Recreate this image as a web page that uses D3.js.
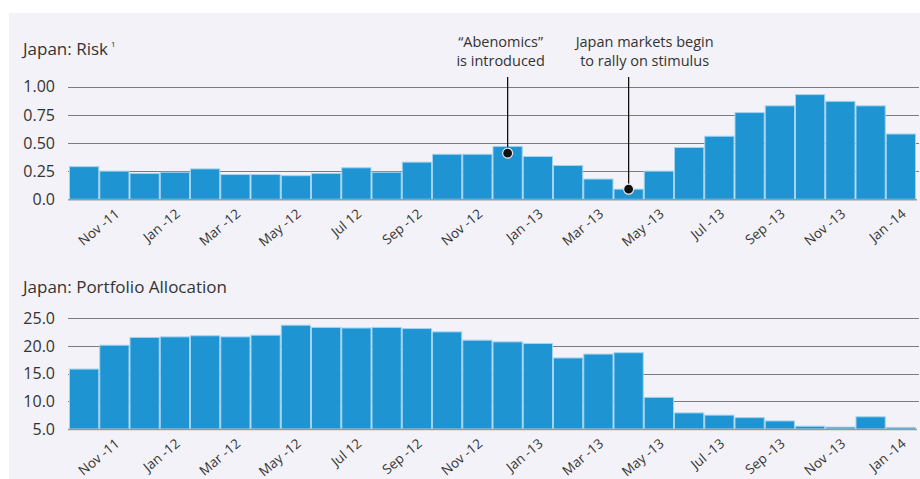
<!DOCTYPE html>
<html lang="en">
	<head>
		<meta charset="utf-8">
		<title>Japan: Risk and Portfolio Allocation</title>
		<script src="https://cdn.jsdelivr.net/npm/d3@7"></script>
		<style>
			body { margin: 0; background: #fff; }
			svg { display: block; font-family: "Open Sans", sans-serif; }
		</style>
	</head>
	<body>
		<div id="chart"></div>
		<script type="text/javascript">

		// months shown as bars, Oct-11 .. Jan-14
		var months = ["Oct-11","Nov-11","Dec-11","Jan-12","Feb-12","Mar-12","Apr-12","May-12","Jun-12","Jul-12",
			"Aug-12","Sep-12","Oct-12","Nov-12","Dec-12","Jan-13","Feb-13","Mar-13","Apr-13","May-13",
			"Jun-13","Jul-13","Aug-13","Sep-13","Oct-13","Nov-13","Dec-13","Jan-14"];

		// tick labels, every second month (as written on the original)
		var tickMonths = ["Nov-11","Jan-12","Mar-12","May-12","Jul-12","Sep-12","Nov-12","Jan-13","Mar-13","May-13","Jul-13","Sep-13","Nov-13","Jan-14"];
		var tickLabels = ["Nov -11","Jan -12","Mar -12","May -12","Jul 12","Sep -12","Nov -12","Jan -13","Mar -13","May -13","Jul -13","Sep -13","Nov -13","Jan -14"];

		var riskValues = [0.29,0.25,0.23,0.24,0.27,0.22,0.22,0.21,0.23,0.28,
			0.24,0.33,0.40,0.40,0.47,0.38,0.30,0.18,0.09,0.25,
			0.46,0.56,0.77,0.83,0.93,0.87,0.83,0.58];

		var allocValues = [15.8,20.1,21.5,21.6,21.8,21.6,21.9,23.7,23.3,23.2,
			23.3,23.1,22.5,21.0,20.7,20.4,17.8,18.5,18.75,10.7,
			7.9,7.5,7.05,6.45,5.5,5.35,7.2,5.3];

		var riskTicks = [0, 0.25, 0.5, 0.75, 1];
		var riskTickLabels = ["0.0","0.25","0.50","0.75","1.00"];
		var allocTicks = [5, 10, 15, 20, 25];
		var allocTickLabels = ["5.0","10.0","15.0","20.0","25.0"];

		// annotations on the risk chart
		var noteMonths = ["Dec-12", "Apr-13"];
		var noteDots = [0.41, 0.09];
		var noteLines = [["\u201cAbenomics\u201d", "is introduced"], ["Japan markets begin", "to rally on stimulus"]];

		var w = 920, h = 479;
		var barColor = "#1f94d2", barEdge = "#a3d4ef", gridColor = "#7c7c7c", textColor = "#333333";
		var noteDx = [-7, 16]; // text offset from the pointer line

		var svg = d3.select("#chart").append("svg")
			.attr("width", w)
			.attr("height", h);

		// light panel behind everything
		svg.append("rect")
			.attr("x", 9).attr("y", 13)
			.attr("width", w - 9).attr("height", h - 13)
			.attr("fill", "#f3f2f8");

		var x = d3.scaleBand()
			.domain(months)
			.range([69, 916])
			.padding(0);

		function drawPanel(opts) {
			var g = svg.append("g");
			var y = opts.y;

			g.append("text")
				.attr("x", 23).attr("y", opts.titleY)
				.attr("font-size", 17)
				.attr("fill", textColor)
				.text(opts.title)
				.call(function(t) {
					if (opts.sup) {
						t.append("tspan").attr("font-size", 8).attr("dx", 3).attr("dy", -8).text(opts.sup);
					}
				});

			// gridlines (behind the bars)
			g.selectAll("line.grid")
				.data(opts.ticks.slice(1))
				.enter().append("line")
				.attr("class", "grid")
				.attr("x1", 68).attr("x2", 919)
				.attr("y1", function(d) { return Math.round(y(d)) + 0.5; })
				.attr("y2", function(d) { return Math.round(y(d)) + 0.5; })
				.attr("stroke", gridColor)
				.attr("stroke-width", 1);

			g.selectAll("text.ytick")
				.data(opts.ticks)
				.enter().append("text")
				.attr("class", "ytick")
				.attr("x", 55)
				.attr("y", function(d) { return y(d); })
				.attr("dy", "0.36em")
				.attr("text-anchor", "end")
				.attr("font-size", 16)
				.attr("fill", textColor)
				.text(function(d, i) { return opts.tickLabels[i]; });

			g.selectAll("rect.bar")
				.data(opts.values)
				.enter().append("rect")
				.attr("class", "bar")
				.attr("x", function(d, i) { return x(months[i]) + 0.5; })
				.attr("width", x.bandwidth() - 1)
				.attr("y", function(d) { return y(d); })
				.attr("height", function(d) { return y(opts.ticks[0]) - y(d); })
				.attr("fill", barColor)
				.attr("stroke", barEdge)
				.attr("stroke-width", 1);

			// baseline
			g.append("line")
				.attr("x1", 68).attr("x2", 917)
				.attr("y1", y(opts.ticks[0]) + 0.5).attr("y2", y(opts.ticks[0]) + 0.5)
				.attr("stroke", "#9a9a9a")
				.attr("stroke-width", 1.5);

			// rotated month labels
			g.selectAll("text.xtick")
				.data(tickMonths)
				.enter().append("text")
				.attr("class", "xtick")
				.attr("text-anchor", "end")
				.attr("font-size", 13.5)
				.attr("fill", textColor)
				.attr("transform", function(d) {
					return "translate(" + (x(d) + x.bandwidth() / 2 + 6) + "," + (y(opts.ticks[0]) + 16) + ") rotate(-40)";
				})
				.text(function(d, i) { return tickLabels[i]; });

			return g;
		}

		var yRisk = d3.scaleLinear().domain([0, 1]).range([199.3, 86.7]);
		var yAlloc = d3.scaleLinear().domain([5, 25]).range([429, 318]);

		var riskG = drawPanel({title: "Japan: Risk", sup: "1", titleY: 55, y: yRisk,
			ticks: riskTicks, tickLabels: riskTickLabels, values: riskValues});

		drawPanel({title: "Japan: Portfolio Allocation", titleY: 293, y: yAlloc,
			ticks: allocTicks, tickLabels: allocTickLabels, values: allocValues});

		// annotations
		noteMonths.forEach(function(m, k) {
			var cx = x(m) + x.bandwidth() / 2;
			riskG.append("line")
				.attr("x1", cx).attr("x2", cx)
				.attr("y1", 77).attr("y2", yRisk(noteDots[k]))
				.attr("stroke", "#111").attr("stroke-width", 1.3);
			riskG.append("circle")
				.attr("cx", cx).attr("cy", yRisk(noteDots[k]))
				.attr("r", 5)
				.attr("fill", "#111")
				.attr("stroke", "#e8e8ee").attr("stroke-width", 1.2);
			riskG.selectAll(null)
				.data(noteLines[k])
				.enter().append("text")
				.attr("x", cx + noteDx[k])
				.attr("y", function(d, i) { return 47 + i * 19; })
				.attr("text-anchor", "middle")
				.attr("font-size", 14.5)
				.attr("fill", textColor)
				.text(function(d) { return d; });
		});
		</script>
	</body>
</html>
